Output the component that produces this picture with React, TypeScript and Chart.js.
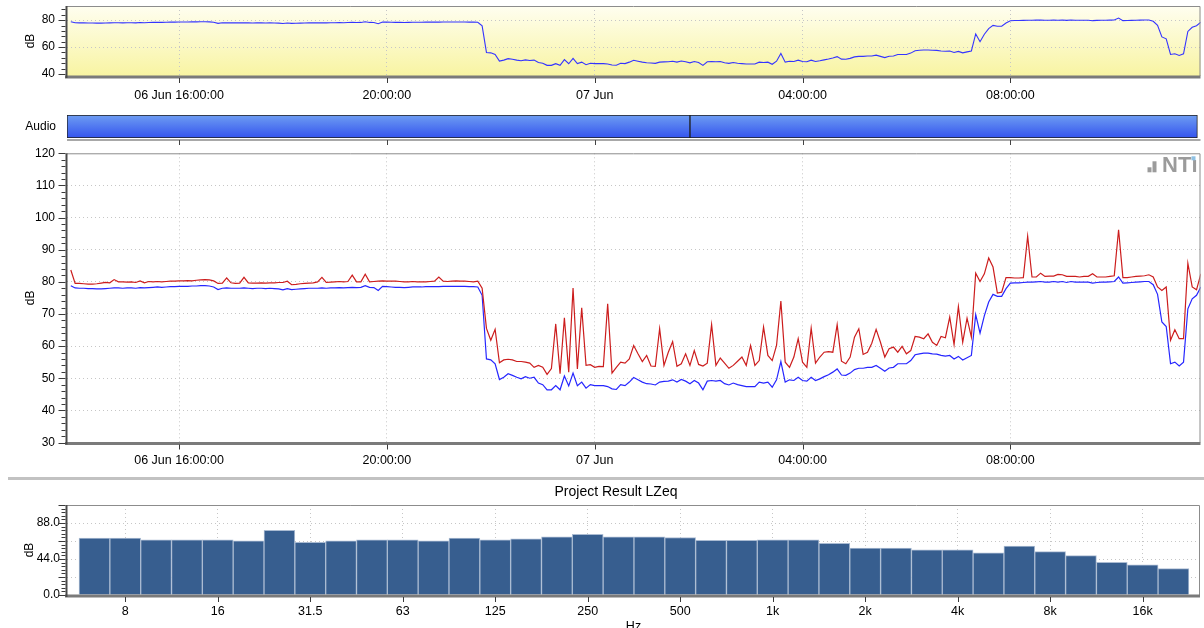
import React, { useEffect, useRef } from 'react';
import { Chart, registerables } from 'chart.js';

Chart.register(...registerables);

const FONT_FAMILY = '"Liberation Sans", Arial, Helvetica, sans-serif';

// ---- time axis (minutes after 06 Jun 00:00) ----
const timeAxisMin = 830.6;
const timeAxisMax = 2139.6;
const timeTickValues = [960, 1200, 1440, 1680, 1920];
const timeTickLabels = ['06 Jun 16:00:00', '20:00:00', '07 Jun', '04:00:00', '08:00:00'];
const sampleStartMin = 835;
const sampleStepMin = 5;

// ---- level history (dB), one value per 5 min ----
const levelRed = [
  83.7, 79.5, 79.5, 79.4, 79.3, 79.3, 79.4, 79.6, 79.8, 79.7,
  80.7, 80.0, 80.0, 79.9, 80.0, 79.8, 80.3, 79.7, 80.1, 80.0,
  80.1, 80.0, 80.1, 80.2, 80.2, 80.3, 80.3, 80.4, 80.3, 80.5,
  80.6, 80.7, 80.6, 80.3, 79.5, 79.6, 81.2, 79.7, 79.5, 79.6,
  81.4, 79.7, 79.6, 79.6, 79.7, 79.6, 79.7, 79.7, 79.8, 79.8,
  80.2, 79.1, 79.2, 79.4, 79.5, 79.6, 79.7, 80.0, 81.4, 79.8,
  79.9, 80.0, 80.1, 80.0, 80.1, 82.1, 80.0, 80.0, 82.4, 80.0,
  80.1, 80.2, 80.3, 80.2, 80.2, 80.2, 80.1, 80.0, 80.0, 80.1,
  80.0, 80.0, 80.0, 80.1, 80.2, 81.5, 80.2, 80.1, 80.2, 80.3,
  80.2, 80.2, 80.1, 80.0, 80.2, 78.0, 65.5, 61.8, 65.2, 54.8,
  55.7, 55.9, 55.7, 55.2, 55.2, 55.0, 54.7, 53.4, 54.0, 53.4,
  51.2, 53.0, 66.9, 51.4, 68.8, 51.9, 78.1, 52.9, 71.9, 54.0,
  54.2, 53.4, 53.7, 53.6, 73.2, 51.6, 53.4, 55.0, 54.7, 56.0,
  60.2, 57.6, 55.2, 57.1, 53.8, 53.7, 65.4, 54.0, 58.1, 61.4,
  53.7, 54.5, 57.6, 54.0, 58.6, 54.3, 53.8, 54.7, 66.7, 54.0,
  56.3, 54.7, 53.1, 54.0, 55.3, 56.6, 54.0, 60.2, 54.0, 55.5,
  65.9, 57.1, 55.5, 60.2, 74.0, 55.0, 53.4, 56.6, 62.3, 55.0,
  53.4, 65.6, 54.7, 56.6, 58.1, 58.3, 58.1, 66.7, 55.3, 54.5,
  56.6, 62.8, 65.4, 57.4, 58.1, 60.9, 65.2, 61.2, 56.6, 59.2,
  59.7, 58.1, 59.9, 57.6, 58.6, 63.0, 62.8, 62.3, 63.8, 61.2,
  60.2, 63.0, 62.6, 69.0, 60.5, 72.3, 61.2, 68.7, 62.8, 82.7,
  80.1, 82.5, 87.4, 84.6, 76.5, 76.8, 81.3, 81.3, 81.2, 81.2,
  81.3, 94.2, 81.5, 81.5, 82.7, 81.7, 81.8, 81.8, 82.3, 82.2,
  81.7, 81.7, 81.7, 81.5, 81.7, 81.7, 82.5, 81.5, 81.5, 81.5,
  81.7, 81.9, 96.2, 81.3, 81.3, 81.5, 81.7, 81.8, 81.9, 82.2,
  81.5, 78.4, 77.3, 78.4, 61.8, 65.1, 62.3, 62.3, 85.8, 78.4,
  77.5, 82.5,
];

const levelBlue = [
  78.8, 78.1, 78.0, 78.0, 77.9, 77.9, 77.8, 77.8, 77.9, 78.0,
  78.1, 78.1, 78.0, 78.1, 78.1, 78.0, 78.2, 78.1, 78.2, 78.3,
  78.4, 78.3, 78.4, 78.5, 78.5, 78.6, 78.6, 78.6, 78.7, 78.7,
  78.8, 78.8, 78.7, 78.4, 77.6, 78.0, 78.1, 78.0, 78.0, 78.0,
  78.1, 78.0, 77.9, 78.0, 78.0, 77.9, 78.0, 77.9, 77.8, 77.5,
  77.9, 77.6, 77.7, 77.8, 77.9, 78.0, 78.0, 78.0, 78.1, 78.0,
  78.1, 78.1, 78.2, 78.1, 78.2, 78.3, 78.2, 78.3, 78.8, 78.3,
  78.2, 77.3, 78.6, 78.5, 78.4, 78.3, 78.3, 78.2, 78.3, 78.4,
  78.4, 78.4, 78.5, 78.5, 78.5, 78.5, 78.6, 78.6, 78.6, 78.6,
  78.6, 78.6, 78.5, 78.5, 78.4, 75.8, 56.0, 55.7, 54.5, 49.6,
  50.3, 51.4, 50.9, 50.3, 49.8, 50.5, 50.0, 50.3, 48.5, 48.0,
  46.4, 46.4, 47.7, 46.4, 50.7, 47.6, 51.6, 47.7, 48.8, 46.9,
  48.0, 47.7, 47.7, 47.7, 47.4, 46.7, 46.5, 48.0, 47.7, 48.8,
  50.2, 49.5, 48.8, 48.3, 48.2, 47.9, 48.8, 49.0, 49.1, 49.5,
  48.8, 49.6, 49.1, 48.3, 49.3, 48.5, 46.4, 49.1, 49.3, 49.1,
  49.3, 48.3, 47.9, 48.5, 48.0, 47.7, 47.4, 47.4, 47.4, 48.8,
  48.5, 48.8, 47.2, 49.5, 55.2, 48.8, 49.5, 49.3, 50.3, 49.3,
  49.1, 50.3, 49.3, 49.8, 50.5, 51.1, 51.9, 52.9, 51.0, 50.9,
  51.6, 52.7, 53.1, 53.1, 53.4, 53.4, 54.0, 53.1, 52.2, 53.2,
  53.4, 54.5, 54.5, 54.5, 55.5, 57.3, 57.6, 57.8, 57.8, 57.6,
  57.5, 57.1, 56.9, 57.1, 56.0, 56.8, 55.7, 56.4, 57.1, 69.8,
  64.0, 69.5, 73.7, 76.1, 75.5, 75.5, 77.9, 79.6, 79.7, 79.7,
  79.8, 79.9, 79.9, 80.0, 80.1, 79.9, 79.9, 80.1, 79.9, 80.1,
  79.8, 80.1, 79.9, 79.9, 79.9, 79.9, 79.6, 79.8, 79.9, 79.9,
  80.0, 80.1, 81.5, 79.6, 79.7, 79.8, 79.9, 80.0, 80.1, 80.1,
  79.1, 76.1, 67.5, 66.1, 54.5, 55.0, 53.8, 55.0, 71.6, 74.7,
  75.8, 78.4,
];

// ---- overview / main axis ticks ----
const overviewYTicks = [40, 60, 80];
const mainYTicks = [30, 40, 50, 60, 70, 80, 90, 100, 110, 120];

// ---- audio recording segments ----
const audioLabels = ['Audio'];
const audioStartMin = [830.6, 1550];
const audioEndMin = [1550, 2136];

// ---- spectrum ----
const spectrumTitle = 'Project Result LZeq';
const bandLabels = [
  '6.3', '8', '10', '12.5', '16', '20', '25', '31.5', '40', '50', '63', '80',
  '100', '125', '160', '200', '250', '315', '400', '500', '630', '800', '1k', '1.25k',
  '1.6k', '2k', '2.5k', '3.15k', '4k', '5k', '6.3k', '8k', '10k', '12.5k', '16k', '20k',
];
const bandLevels = [
  69.5, 69.5, 67.5, 67.5, 67.5, 66.3, 79.0, 64.5, 66.3, 67.5, 67.5, 66.3,
  69.5, 67.5, 68.7, 71.2, 74.2, 71.2, 71.2, 70.3, 66.7, 66.7, 67.5, 67.5,
  63.0, 57.3, 57.3, 55.2, 55.2, 51.5, 59.7, 53.1, 48.2, 40.0, 37.0, 32.3,
];
const bandTickIndex = [1, 4, 7, 10, 13, 16, 19, 22, 25, 28, 31, 34];
const spectrumYTicks = [0, 22, 44, 66, 88, 110];
const spectrumYLabelled = [0, 44, 88];

const GRID = '#c6c6c6';
const CLEAR = 'rgba(0,0,0,0)';

const decorPlugin = {
  id: 'decor',
  beforeDraw(chart: any, _a: any, o: any) {
    if (!o || !o.bg) return;
    const { ctx, chartArea: a } = chart;
    const g = ctx.createLinearGradient(0, a.top, 0, a.bottom);
    g.addColorStop(0, o.bg[0]);
    g.addColorStop(1, o.bg[1]);
    ctx.save();
    ctx.fillStyle = g;
    ctx.fillRect(a.left, a.top, a.right - a.left, a.bottom - a.top);
    ctx.restore();
  },
  afterDraw(chart: any, _a: any, o: any) {
    if (!o) return;
    const { ctx, chartArea: a, scales } = chart;
    const x = scales.x;
    const y = scales.y;
    ctx.save();
    // frame
    ctx.strokeStyle = '#8c8c8c';
    ctx.lineWidth = 1;
    ctx.beginPath();
    ctx.moveTo(a.left, a.top + 0.5);
    ctx.lineTo(a.right - 0.5, a.top + 0.5);
    ctx.lineTo(a.right - 0.5, a.bottom);
    ctx.stroke();
    ctx.strokeStyle = '#7a7a7a';
    ctx.lineWidth = 3;
    ctx.beginPath();
    ctx.moveTo(a.left - 2, a.bottom + 1);
    ctx.lineTo(a.right, a.bottom + 1);
    ctx.stroke();
    ctx.strokeStyle = '#4a4a4a';
    ctx.lineWidth = 2;
    ctx.beginPath();
    ctx.moveTo(a.left - 0.5, a.top);
    ctx.lineTo(a.left - 0.5, a.bottom + 2);
    ctx.stroke();
    // y ticks (major + minor)
    ctx.strokeStyle = '#3a3a3a';
    ctx.lineWidth = 1;
    if (o.yStep) {
      const start = Math.ceil((y.min - 1e-6) / o.yStep) * o.yStep;
      for (let v = start; v <= y.max + 1e-6; v += o.yStep) {
        const py = Math.round(y.getPixelForValue(v)) + 0.5;
        const r = v / o.yMajor;
        const major = Math.abs(r - Math.round(r)) < 1e-6;
        const len = major ? 7 : 4;
        ctx.beginPath();
        ctx.moveTo(a.left - 1.5 - len, py);
        ctx.lineTo(a.left - 1.5, py);
        ctx.stroke();
      }
    }
    // x ticks
    for (const t of x.ticks) {
      const px = Math.round(x.getPixelForValue(t.value)) + 0.5;
      ctx.beginPath();
      ctx.moveTo(px, a.bottom + 2);
      ctx.lineTo(px, a.bottom + 7);
      ctx.stroke();
    }
    if (o.logo) {
      ctx.fillStyle = '#9b9b9b';
      ctx.fillRect(a.right - 53, a.top + 14, 4, 5);
      ctx.fillRect(a.right - 48, a.top + 8, 4, 11);
      ctx.font = 'bold 22px ' + FONT_FAMILY;
      ctx.textAlign = 'right';
      ctx.textBaseline = 'alphabetic';
      ctx.fillText('NTı', a.right - 3, a.top + 19);
      ctx.fillStyle = '#8fc1e3';
      ctx.fillRect(a.right - 9, a.top + 3, 4, 4);
    }
    if (o.title) {
      ctx.fillStyle = '#000';
      ctx.font = '14px ' + FONT_FAMILY;
      ctx.textAlign = 'center';
      ctx.textBaseline = 'middle';
      ctx.fillText(o.title, o.titleX, o.titleY);
    }
    ctx.restore();
  },
};

const audioAxisPlugin = {
  id: 'audioAxis',
  afterDraw(chart: any) {
    const { ctx, chartArea: a, scales } = chart;
    const x = scales.x;
    ctx.save();
    ctx.strokeStyle = '#a8a8a8';
    ctx.lineWidth = 2;
    ctx.beginPath();
    ctx.moveTo(a.left, a.bottom + 2);
    ctx.lineTo(a.right, a.bottom + 2);
    ctx.stroke();
    ctx.strokeStyle = '#444';
    ctx.lineWidth = 1;
    for (const v of timeTickValues) {
      const px = Math.round(x.getPixelForValue(v)) + 0.5;
      ctx.beginPath();
      ctx.moveTo(px, a.bottom + 2);
      ctx.lineTo(px, a.bottom + 7);
      ctx.stroke();
    }
    ctx.restore();
  },
};

const font12 = { family: FONT_FAMILY, size: 12 };
const fontX = { family: FONT_FAMILY, size: 12.5 };

function timeXScale(height: number, padding: number) {
  return {
    type: 'linear',
    min: timeAxisMin,
    max: timeAxisMax,
    afterBuildTicks: (s: any) => {
      s.ticks = timeTickValues.map((v) => ({ value: v }));
    },
    afterFit: (s: any) => {
      s.height = height;
      s.paddingLeft = 0;
      s.paddingRight = 0;
    },
    ticks: {
      autoSkip: false,
      maxRotation: 0,
      minRotation: 0,
      padding,
      color: '#000',
      font: fontX,
      callback: (v: any) => {
        const k = timeTickValues.indexOf(Number(v));
        return k >= 0 ? timeTickLabels[k] : '';
      },
    },
    grid: { drawTicks: false, color: GRID, lineWidth: 1 },
    border: { display: false, dash: [1, 3] },
  };
}

function yScale(min: number, max: number, ticks: number[], hidden: number[], labelled: number[] | null, pad: number, titlePad: number, fmt: (v: number) => string) {
  return {
    min,
    max,
    afterBuildTicks: (s: any) => {
      s.ticks = ticks.map((v) => ({ value: v }));
    },
    afterFit: (s: any) => {
      s.width = 67;
      s.paddingTop = 0;
      s.paddingBottom = 0;
    },
    ticks: {
      autoSkip: false,
      padding: pad,
      color: '#000',
      font: font12,
      callback: (v: any) => {
        const n = Number(v);
        if (labelled && labelled.indexOf(n) < 0) return '';
        return fmt(n);
      },
    },
    grid: {
      drawTicks: false,
      lineWidth: 1,
      color: (c: any) => (c.tick && hidden.indexOf(c.tick.value) >= 0 ? CLEAR : GRID),
    },
    border: { display: false, dash: [1, 3] },
    title: {
      display: true,
      text: 'dB',
      color: '#000',
      font: font12,
      padding: { top: titlePad, bottom: 0 },
    },
  };
}

export default function App() {
  const topRef = useRef<HTMLCanvasElement>(null);
  const audioRef = useRef<HTMLCanvasElement>(null);
  const mainRef = useRef<HTMLCanvasElement>(null);
  const specRef = useRef<HTMLCanvasElement>(null);

  useEffect(() => {
    const times = levelBlue.map((_, i) => sampleStartMin + i * sampleStepMin);
    const bluePts = levelBlue.map((v, i) => ({ x: times[i], y: v }));
    const redPts = levelRed.map((v, i) => ({ x: times[i], y: v }));
    const charts: Chart[] = [];

    // ---- overview ----
    charts.push(
      new Chart(topRef.current as HTMLCanvasElement, {
        type: 'line',
        data: {
          datasets: [
            { data: bluePts, borderColor: '#3434ff', borderWidth: 1.1, pointRadius: 0, tension: 0 },
          ],
        },
        plugins: [decorPlugin],
        options: {
          responsive: false,
          animation: false,
          devicePixelRatio: 1,
          layout: { padding: { top: 6, right: 3.5, left: 0, bottom: 0 } },
          plugins: {
            legend: { display: false },
            tooltip: { enabled: false },
            decor: { bg: ['#fffef0', '#f8f4a2'], yStep: 4, yMajor: 20 },
          } as any,
          scales: {
            x: timeXScale(31, 12),
            y: yScale(38.5, 90.5, overviewYTicks, [40], null, 12, 23, (v) => String(v)),
          } as any,
        },
      })
    );

    // ---- audio bar ----
    const audioFill = (c: any) => {
      const { ctx, chartArea } = c.chart;
      if (!chartArea) return '#4a74ee';
      const g = ctx.createLinearGradient(0, chartArea.top, 0, chartArea.bottom);
      g.addColorStop(0, '#6e9df2');
      g.addColorStop(1, '#3454ee');
      return g;
    };
    charts.push(
      new Chart(audioRef.current as HTMLCanvasElement, {
        type: 'bar',
        data: {
          labels: audioLabels,
          datasets: audioStartMin.map((s, k) => ({
            data: [[s, audioEndMin[k]]],
            grouped: false,
            barPercentage: 1,
            categoryPercentage: 1,
            backgroundColor: audioFill,
            borderColor: '#1e1e1e',
            borderWidth: 1,
            borderSkipped: false,
          })) as any,
        },
        plugins: [audioAxisPlugin],
        options: {
          indexAxis: 'y',
          responsive: false,
          animation: false,
          devicePixelRatio: 1,
          layout: { padding: { top: 8, right: 3.5, left: 0, bottom: 9 } },
          plugins: { legend: { display: false }, tooltip: { enabled: false } },
          scales: {
            x: { type: 'linear', display: false, min: timeAxisMin, max: timeAxisMax },
            y: {
              afterFit: (s: any) => {
                s.width = 67;
                s.paddingTop = 0;
                s.paddingBottom = 0;
              },
              ticks: { padding: 11, color: '#000', font: font12 },
              grid: { display: false, drawTicks: false },
              border: { display: false },
            },
          } as any,
        },
      })
    );

    // ---- main level chart ----
    charts.push(
      new Chart(mainRef.current as HTMLCanvasElement, {
        type: 'line',
        data: {
          datasets: [
            { data: redPts, borderColor: '#cc1d1d', borderWidth: 1.2, pointRadius: 0, tension: 0 },
            { data: bluePts, borderColor: '#2626ff', borderWidth: 1.2, pointRadius: 0, tension: 0 },
          ],
        },
        plugins: [decorPlugin],
        options: {
          responsive: false,
          animation: false,
          devicePixelRatio: 1,
          layout: { padding: { top: 8.3, right: 3.5, left: 0, bottom: 0 } },
          plugins: {
            legend: { display: false },
            tooltip: { enabled: false },
            decor: { yStep: 2, yMajor: 10, logo: true },
          } as any,
          scales: {
            x: timeXScale(35.5, 11),
            y: yScale(30, 120, mainYTicks, [30, 120], null, 12, 23, (v) => String(v)),
          } as any,
        },
      })
    );

    // ---- spectrum ----
    charts.push(
      new Chart(specRef.current as HTMLCanvasElement, {
        type: 'bar',
        data: {
          datasets: [
            {
              data: bandLevels.map((v, i) => ({ x: i, y: v })),
              backgroundColor: '#375e8f',
              borderColor: '#aabbd2',
              borderWidth: 1,
              barPercentage: 1,
              categoryPercentage: 1,
            },
          ],
        },
        plugins: [decorPlugin],
        options: {
          responsive: false,
          animation: false,
          devicePixelRatio: 1,
          layout: { padding: { top: 27, right: 4, left: 0, bottom: 0 } },
          plugins: {
            legend: { display: false },
            tooltip: { enabled: false },
            decor: { yStep: 4.4, yMajor: 22, title: spectrumTitle, titleX: 616, titleY: 14 },
          } as any,
          scales: {
            x: {
              type: 'linear',
              min: -0.89,
              max: 35.86,
              offset: false,
              afterBuildTicks: (s: any) => {
                s.ticks = bandTickIndex.map((v) => ({ value: v }));
              },
              afterFit: (s: any) => {
                s.height = 45;
                s.paddingLeft = 0;
                s.paddingRight = 0;
              },
              ticks: {
                autoSkip: false,
                maxRotation: 0,
                minRotation: 0,
                padding: 9,
                color: '#000',
                font: fontX,
                callback: (v: any) => bandLabels[Number(v)] ?? '',
              },
              grid: { drawTicks: false, color: GRID, lineWidth: 1, offset: false },
              border: { display: false, dash: [1, 3] },
              title: { display: true, text: 'Hz', color: '#000', font: fontX, padding: { top: 0, bottom: 6 } },
            },
            y: yScale(0, 110, spectrumYTicks, [0, 110], spectrumYLabelled, 7, 22, (v) => v.toFixed(1)),
          } as any,
        },
      })
    );

    return () => charts.forEach((c) => c.destroy());
  }, []);

  const abs = (top: number): React.CSSProperties => ({ position: 'absolute', left: 0, top, display: 'block' });

  return (
    <div style={{ position: 'fixed', left: 0, top: 0, width: 1204, height: 628, background: '#fff', overflow: 'hidden' }}>
      <div style={{ position: 'absolute', left: 8, top: 477, width: 1196, height: 3, background: '#c2c2c2' }} />
      <canvas ref={topRef} width={1204} height={107} style={abs(0)} />
      <canvas ref={audioRef} width={1204} height={40} style={abs(107)} />
      <canvas ref={mainRef} width={1204} height={333} style={abs(145)} />
      <canvas ref={specRef} width={1204} height={162} style={abs(478)} />
    </div>
  );
}
